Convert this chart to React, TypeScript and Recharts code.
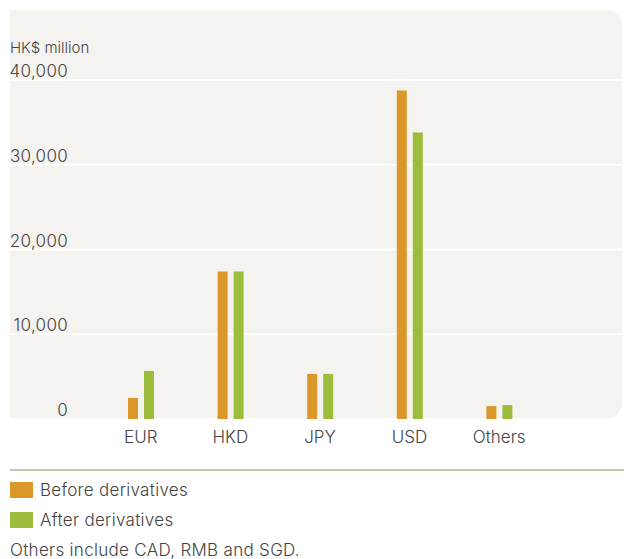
import { Bar, BarChart, CartesianGrid, XAxis, YAxis } from "recharts";

const categories = ["EUR", "HKD", "JPY", "USD", "Others"];
const beforeDerivatives = [2480, 17400, 5320, 38750, 1520];
const afterDerivatives = [5670, 17400, 5320, 33800, 1650];
const yTicks = [0, 10000, 20000, 30000, 40000];

const data = categories.map((label, i) => ({
  label,
  before: beforeDerivatives[i],
  after: afterDerivatives[i],
}));

const ORANGE = "#dc972b";
const GREEN = "#9cbc3c";
const TEXT = "#444444";
const FONT = "Inter, 'Open Sans', sans-serif";

const number = new Intl.NumberFormat("en-US");

function YTick(props: any) {
  const { y, payload } = props;
  return (
    <text
      x={68}
      y={y - 9}
      textAnchor="end"
      dominantBaseline="central"
      fill={TEXT}
      fontSize={17}
      fontFamily={FONT}
      fontWeight={300}
      letterSpacing={0.3}
    >
      {number.format(payload.value)}
    </text>
  );
}

export default function App() {
  return (
    <div
      style={{
        position: "absolute",
        left: 0,
        top: 0,
        width: 624,
        height: 559,
        background: "#fff",
        fontFamily: FONT,
        color: TEXT,
      }}
    >
      <div
        style={{
          position: "absolute",
          left: 10,
          top: 10,
          width: 612,
          height: 409,
          background: "#f4f3ef",
          borderRadius: "0 16px 16px 0",
        }}
      />
      <div
        style={{
          position: "absolute",
          left: 10,
          top: 38,
          fontSize: 15,
          fontWeight: 300,
        }}
      >
        HK$ million
      </div>
      <div style={{ position: "absolute", left: 0, top: 0 }}>
        <BarChart
          width={624}
          height={460}
          data={data}
          margin={{ top: 80, right: 2, bottom: 0, left: 9 }}
          barSize={10}
          barGap={6}
        >
          <CartesianGrid vertical={false} stroke="#ffffff" strokeWidth={2} />
          <XAxis
            dataKey="label"
            axisLine={false}
            tickLine={false}
            height={41}
            tickMargin={6}
            padding={{ left: 86, right: 78 }}
            tick={{ fill: TEXT, fontSize: 17, fontFamily: FONT, fontWeight: 300 }}
          />
          <YAxis
            width={1}
            domain={[0, 40000]}
            ticks={yTicks}
            axisLine={false}
            tickLine={false}
            tick={<YTick />}
          />
          <Bar dataKey="before" fill={ORANGE} isAnimationActive={false} />
          <Bar dataKey="after" fill={GREEN} isAnimationActive={false} />
        </BarChart>
      </div>
      <div
        style={{
          position: "absolute",
          left: 10,
          top: 469,
          width: 614,
          height: 2,
          background: "#cdc3b7",
        }}
      />
      {[
        { name: "Before derivatives", color: ORANGE, top: 482 },
        { name: "After derivatives", color: GREEN, top: 512 },
      ].map((item) => (
        <div
          key={item.name}
          style={{
            position: "absolute",
            left: 10,
            top: item.top,
            display: "flex",
            alignItems: "center",
            height: 16,
            fontSize: 17,
            fontWeight: 300,
            letterSpacing: 0.3,
          }}
        >
          <span
            style={{
              display: "inline-block",
              width: 23,
              height: 16,
              background: item.color,
              marginRight: 7,
            }}
          />
          {item.name}
        </div>
      ))}
      <div
        style={{
          position: "absolute",
          left: 10,
          top: 540,
          fontSize: 17,
          fontWeight: 300,
          lineHeight: "20px",
          letterSpacing: 0.3,
        }}
      >
        Others include CAD, RMB and SGD.
      </div>
    </div>
  );
}
